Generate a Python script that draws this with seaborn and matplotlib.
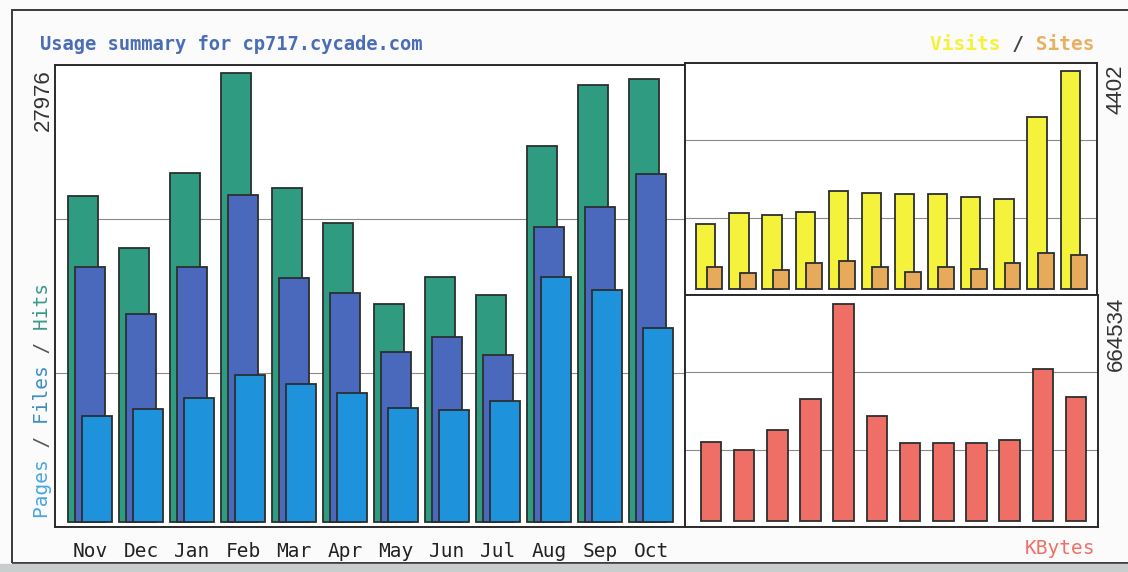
import matplotlib.pyplot as plt
import matplotlib.patches as mpatches
import seaborn as sns

# Monthly data
months = ["Nov", "Dec", "Jan", "Feb", "Mar", "Apr", "May", "Jun", "Jul", "Aug", "Sep", "Oct"]
hits = [20330, 17050, 21750, 27976, 20830, 18660, 13570, 15250, 14130, 23430, 27210, 27580]
files = [15870, 12950, 15870, 20390, 15190, 14260, 10600, 11530, 10410, 18410, 19650, 21690]
pages = [6630, 7070, 7750, 9170, 8620, 8060, 7130, 7000, 7560, 15250, 14440, 12090]
visits = [1312, 1541, 1494, 1549, 1986, 1945, 1913, 1913, 1864, 1824, 3468, 4402]
sites = [450, 329, 384, 519, 559, 438, 349, 450, 398, 531, 721, 680]
kbytes = [242850, 217430, 278680, 374530, 664534, 321550, 239790, 239790, 239790, 248050, 466400, 378820]

c_hits, c_files, c_pages = "#2f9b80", "#4a69bd", "#1e93dc"
c_visits, c_sites, c_kb = "#f4f23a", "#e6aa5a", "#ef6f66"
edge = "#2b2f30"
mono = "DejaVu Sans Mono"

sns.set_style("white")
W, H = 1128, 572
fig = plt.figure(figsize=(W / 100, H / 100), dpi=100, facecolor="#fbfbfb")


def fx(px):
    return px / W


def fy(py):
    return 1 - py / H


def axes_px(x0, y0, x1, y1):
    return fig.add_axes([fx(x0), fy(y1), fx(x1) - fx(x0), fy(y0) - fy(y1)])


def bars(ax, values, color, width, shift):
    n0 = len(ax.patches)
    sns.barplot(x=months, y=values, order=months, color=color, saturation=1,
                width=width, edgecolor=edge, linewidth=1.3, ax=ax, zorder=2)
    for p in ax.patches[n0:]:
        p.set_x(p.get_x() + shift)


def frame(ax, xlim, ylim):
    ax.set_xlim(*xlim)
    ax.set_ylim(*ylim)
    lo, hi = ylim
    for f in (1 / 3, 2 / 3):
        ax.axhline(lo + (hi - lo) * f, color="#8a8a8a", lw=0.8, zorder=0)
    for s in ax.spines.values():
        s.set_visible(True)
        s.set_color("#2a2a2a")
        s.set_linewidth(1.4)
    ax.set_xlabel("")
    ax.set_ylabel("")
    ax.set_yticks([])
    ax.set_facecolor("white")


# Left panel: hits / files / pages
ax1 = axes_px(55, 65, 685, 527)
bars(ax1, hits, c_hits, 0.58, -0.14)
bars(ax1, files, c_files, 0.58, 0.0)
bars(ax1, pages, c_pages, 0.58, 0.14)
frame(ax1, (-0.684, 11.665), (-300, 28473))
ax1.tick_params(axis="x", length=0, pad=11)
for lab in ax1.get_xticklabels():
    lab.set_fontfamily(mono)
    lab.set_fontsize(14)
    lab.set_color("#222222")

# Right top: visits / sites
ax2 = axes_px(685, 63, 1097, 295)
bars(ax2, visits, c_visits, 0.58, -0.15)
bars(ax2, sites, c_sites, 0.48, 0.11)
frame(ax2, (-0.78, 11.66), (-121, 4557))
ax2.set_xticks([])

# Right bottom: kbytes
ax3 = axes_px(685, 295, 1098, 527)
bars(ax3, kbytes, c_kb, 0.62, 0.0)
frame(ax3, (-0.78, 11.66), (-18374, 692100))
ax3.set_xticks([])

# Texts
fig.text(fx(40), fy(44), "Usage summary for cp717.cycade.com", color="#4a6db5",
         family=mono, weight="bold", fontsize=13.5, va="center", ha="left")

vs = "Visits / Sites"
for seg, col in [("Visits", c_visits), ("/", "#444444"), ("Sites", "#e8b060")]:
    i = vs.index(seg)
    s = " " * i + seg + " " * (len(vs) - i - len(seg))
    fig.text(fx(1094), fy(45), s, color=col, family=mono, weight="bold",
             fontsize=14, va="center", ha="right")

fig.text(fx(1095), fy(549), "KBytes", color=c_kb, family=mono,
         fontsize=14, va="center", ha="right")

pf = "Pages / Files / Hits"
for seg, col, start in [("Pages", "#48a7e0", 0), ("/", "#555555", 6),
                        ("Files", "#3b8fc0", 8), ("/", "#555555", 14),
                        ("Hits", "#3a9a8c", 16)]:
    s = " " * start + seg + " " * (len(pf) - start - len(seg))
    fig.text(fx(43), fy(401), s, color=col, family=mono, fontsize=14,
             rotation=90, va="center", ha="center")

num_kw = dict(family="Liberation Sans", fontsize=16, color="#333333",
              rotation=90, ha="center", va="top")
fig.text(fx(43.5), fy(69), "27976", **num_kw)
fig.text(fx(1116), fy(65), "4402", **num_kw)
fig.text(fx(1116), fy(297), "664534", **num_kw)

# Outer border and scanner strip at the bottom
fig.add_artist(mpatches.Rectangle((fx(12), fy(563)), fx(1140) - fx(12), fy(10) - fy(563),
                                  fill=False, edgecolor="#3a3a3a", lw=1.4,
                                  transform=fig.transFigure))
fig.add_artist(mpatches.Rectangle((0, 0), 1, fy(564), color="#c9cdcd",
                                  transform=fig.transFigure))

fig.savefig("out.png", dpi=100, facecolor=fig.get_facecolor())
